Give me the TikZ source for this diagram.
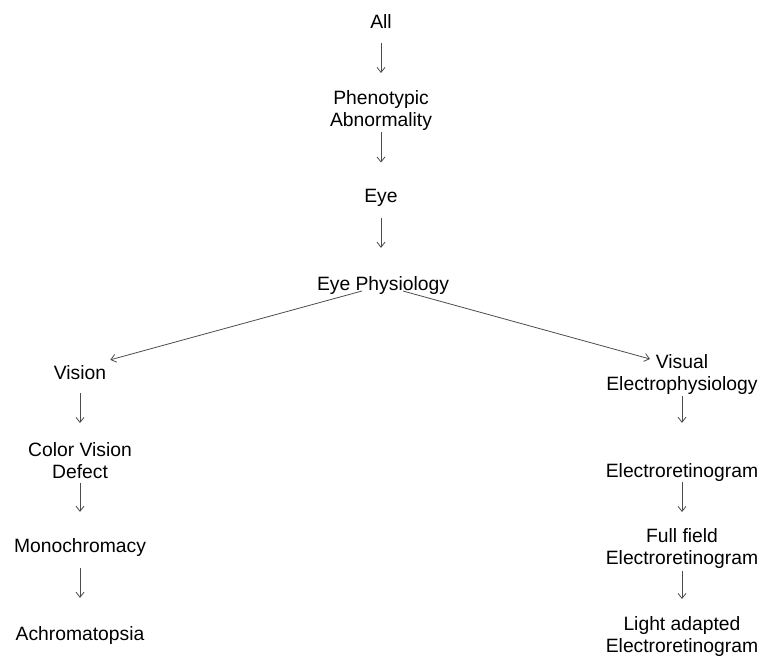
\documentclass[tikz,border=0pt]{standalone}
\usepackage{fontspec}
\setmainfont{Liberation Sans}
\usetikzlibrary{arrows.meta}
\begin{document}
\begin{tikzpicture}[x=1pt,y=-1pt,
  term/.style={inner sep=0pt, font=\fontsize{19.3}{22.5}\selectfont, align=center},
  link/.style={draw=black!70, line width=0.8pt, -{Straight Barb[length=5pt,width=8pt]}}]
\useasboundingbox (0,0) rectangle (764,656);

% central chain
\node[term, anchor=base]  (all) at (381,28)  {All};
\node[term, anchor=north] (pa)  at (381,90)  {Phenotypic\\Abnormality};
\node[term, anchor=base]  (eye) at (381,202) {Eye};
\node[term, anchor=base]  (ep)  at (383,290) {Eye Physiology};

% left branch
\node[term, anchor=base]  (vis) at (80,379)  {Vision};
\node[term, anchor=north] (cvd) at (80,442)  {Color Vision\\Defect};
\node[term, anchor=base]  (mon) at (80,552)  {Monochromacy};
\node[term, anchor=base]  (ach) at (80,640)  {Achromatopsia};

% right branch
\node[term, anchor=north] (vep) at (682,354) {Visual\\Electrophysiology};
\node[term, anchor=base]  (erg) at (682,477) {Electroretinogram};
\node[term, anchor=north] (ffe) at (682,528) {Full field\\Electroretinogram};
\node[term, anchor=north] (lae) at (682,616) {Light adapted\\Electroretinogram};

% vertical links
\draw[link, shorten <=15pt, shorten >=17pt] (all.south) -- (pa.north);
\draw[link, shorten <=1pt,  shorten >=26pt] (pa.south) -- (eye.north);
\draw[link, shorten <=12pt, shorten >=28pt] (eye.south) -- (eye.south |- ep.north);

\draw[link, shorten <=14pt, shorten >=19pt] (vis.south) -- (vis.south |- cvd.north);
\draw[link, shorten <=4pt,  shorten >=26pt] (cvd.south) -- (cvd.south |- mon.north);
\draw[link, shorten <=12pt, shorten >=28pt] (mon.south) -- (mon.south |- ach.north);

\draw[link, shorten <=1pt,  shorten >=40pt] (vep.south) -- (erg.north);
\draw[link, shorten <=1pt,  shorten >=16pt] (erg.south) -- (ffe.north);
\draw[link, shorten <=2pt,  shorten >=17pt] (ffe.south) -- (lae.north);

% branching links
\draw[link] ([shift={(-21pt,-1pt)}]ep.base) -- ([shift={(4pt,5pt)}]vis.north east);
\draw[link] ([shift={(20pt,-1pt)}]ep.base) -- ([shift={(-32pt,-5pt)}]vep.north);
\end{tikzpicture}
\end{document}
